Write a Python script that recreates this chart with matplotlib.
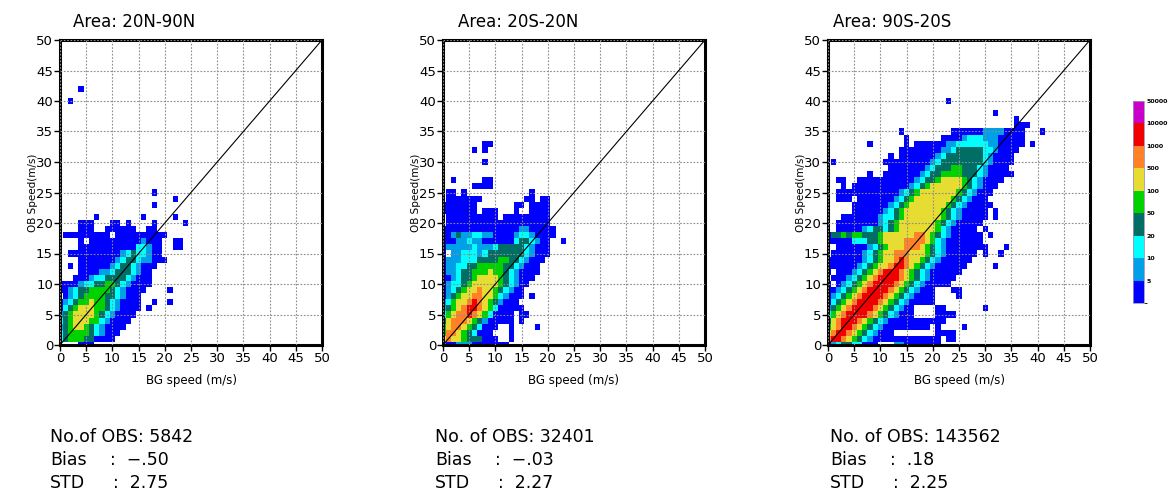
#Observed vs background wind speed density, three latitude bands
import numpy as np
import matplotlib.pyplot as plt
from matplotlib.colors import ListedColormap, BoundaryNorm
from matplotlib.cm import ScalarMappable

# --- Data: density class of each 1 m/s cell ---
# key = OB speed row, "a-b:L" = BG speed columns a..b have class L
# class 1 <5, 2 5-10, 3 10-20, 4 20-50, 5 50-100, 6 100-500, 7 500-1000, 8 1000-10000, 9 >10000
areas = ["Area: 20N-90N", "Area: 20S-20N", "Area: 90S-20S"]
n_obs = ["No.of OBS: 5842", "No. of OBS: 32401", "No. of OBS: 143562"]
bias = ["\u2212.50", "\u2212.03", ".18"]
std = ["2.75", "2.27", "2.25"]

rows_nh = {
    0: "4-6:1",
    1: "0:3 1:4 2-4:5 5-6:4 7-10:1",
    2: "0:3 1:4 2-5:5 6:4 7:3 8:2 9-11:1",
    3: "0:2 1:4 2:5 3-4:6 5:5 6:4 7:3 8:2 9-12:1",
    4: "0:3 1:4 2:5 3-5:6 6-7:5 8:3 9:2 10-13:1",
    5: "0:2 1:4 2:5 3-6:6 7:5 8:4 9:3 10:2 11-14:1",
    6: "0:1 1:3 2:4 3:5 4-6:6 7-8:5 9:4 10:3 11:2 12-15:1 17:1",
    7: "0:1 1:2 2:3 3:4 4-5:5 6:6 7-8:5 9:4 10:3 11:2 12-15:1 18:1 21:1",
    8: "1:1 2:2 3:3 4:4 5-8:5 9-10:4 11:3 12:2 13-15:1",
    9: "0-1:1 2:2 3:3 4-5:4 6-9:5 10:4 11:3 12:2 13-16:1 21:1",
    10: "0-3:1 4:2 5-6:3 7-8:4 9-10:5 11:4 12:3 13:2 14-17:1",
    11: "3-5:1 6:2 7-8:3 9-12:4 13:3 14:2 15-17:1",
    12: "4-7:1 8-9:2 10:3 11-13:4 14:3 15:2 16-17:1",
    13: "2:1 4-9:1 10:2 11:3 12-13:4 14:3 15:2 16-18:1",
    14: "4-10:1 11:2 12:3 13-14:4 15:3 16-17:2 18-20:1",
    15: "2-11:1 12:2 13:3 14:4 15-16:3 17:2 18-19:1",
    16: "4-14:1 15-16:3 17:2 18-19:1 22-23:1",
    17: "4:1 6-15:1 16:2 17-19:1 22-23:1",
    18: "1-9:1 11-20:1",
    19: "4-6:1 9-14:1 17-18:1",
    20: "4-6:1 10-11:1 13:1 18:1 24:1",
    21: "7:1 16:1 22:1",
    23: "18:1",
    24: "22:1",
    25: "18:1",
    40: "2:1",
    42: "4:1",
}

rows_tr = {
    0: "0:2 1-2:1 3-5:2 6-12:1",
    1: "0:6 1:7 2-3:6 4:5 5-7:4 8-10:1 13:1",
    2: "0:5 1-2:7 3:6 4:5 5:4 6:3 7-9:1 13:1",
    3: "0:5 1:6 2-3:7 4:6 5:5 6:4 7:3 8-10:1 13:1 18:1",
    4: "0:4 1:6 2-4:7 5:6 6:5 7:4 8:2 9-13:1 15:1",
    5: "0:3 1:5 2:6 3-4:7 5:8 6:7 7:6 8:5 9:3 10-13:1 15-16:1",
    6: "0:2 1:4 2:5 3:6 4:7 5-6:8 7:7 8:6 9:5 10:3 11-15:1",
    7: "0:2 1:3 2:5 3-4:6 5:7 6:8 7:7 8:6 9:5 10:4 11:2 12-14:1",
    8: "0:1 1:2 2:4 3:5 4-5:6 6-7:7 8-9:6 10:5 11:3 12:2 13-15:1 17:1",
    9: "0:1 1:2 2:3 3:4 4:5 5-6:6 7:7 8-9:6 10:5 11:4 12:3 13:2 14-15:1",
    10: "0:1 1:2 2-3:3 4:4 5:5 6-10:6 11:5 12:4 13:3 14:2 15-16:1",
    11: "0-1:1 2:2 3:3 4-5:4 6:5 7-10:6 11:5 12:4 13:3 14:2 15-17:1",
    12: "0:1 1-2:2 3:3 4-5:4 6-8:5 9:6 10-11:5 12:4 13:3 14:2 15-18:1",
    13: "0:1 1-2:2 3-4:3 5-6:4 7-11:5 12-13:4 14:3 15:2 16-18:1",
    14: "0:1 1-3:2 4-6:3 7-10:4 11-12:5 13-14:4 15:3 16:2 17-19:1",
    15: "0:1 2-3:2 4-6:3 7:2 8:3 9-15:4 16:3 17:2 18-20:1",
    16: "0:1 1-5:2 6:3 7-9:2 10:3 11-15:4 16:3 17:2 18-20:1",
    17: "0-2:1 3-4:2 5:3 6-7:2 8-13:1 14:3 15-16:4 17:3 18:2 19-20:1 23:1",
    18: "0-1:1 2:2 3:4 4-5:2 6-7:3 8-9:2 10-13:1 14:2 15-16:3 17:2 18-21:1",
    19: "0-14:1 15-16:2 17-21:1",
    20: "1-20:1",
    21: "1-10:1 12-20:1",
    22: "0-6:1 8-10:1 14:1 17-20:1",
    23: "0-6:1 14-15:1 17-20:1",
    24: "1-7:1 16-17:1 19-20:1",
    25: "1-2:1 4:1 17:1",
    26: "6-9:1",
    27: "2:1 8-9:1",
    30: "8:1",
    32: "6:1 8:1",
    33: "8-9:1",
}

rows_sh = {
    0: "0:1 1:2 2:3 3-4:4 5-6:3 7-9:1 13-14:2 15-21:1",
    1: "0:7 1-2:8 3:7 4:6 5:5 6:4 7:3 8:2 9-21:1 23-24:1",
    2: "0:6 1:7 2-3:8 4:7 5:6 6:5 7:4 8:3 9:2 10-12:1 21-24:1",
    3: "0:5 1:6 2:7 3-4:8 5:7 6:6 7:5 8:4 9:3 10:2 11-19:1 21:1 26:1",
    4: "0:4 1:6 2:7 3-5:8 6:7 7:6 8:5 9:4 10:3 11:2 12-22:1",
    5: "0:3 1:5 2:6 3:7 4-7:8 8:7 9:6 10:5 11:4 12:3 13:2 14-16:1 21-24:1",
    6: "0:2 1:4 2:5 3:6 4:7 5-8:8 9:7 10:6 11:5 12:4 13:3 14:2 15-16:1 21-22:1 30:1",
    7: "0:1 1:3 2:4 3:5 4:6 5:7 6-9:8 10:7 11:6 12:5 13:4 14:3 15:2 16-20:1",
    8: "0:1 1:2 2:3 3:4 4:5 5:6 6:7 7-10:8 11:7 12:6 13:5 14:4 15:3 16:2 17-20:1 25:1",
    9: "0-1:1 2:2 3:3 4:4 5:5 6:6 7:7 8-11:8 12:7 13:6 14:5 15:4 16:3 17:2 18-20:1 24-25:1",
    10: "0:1 2:1 3:2 4:3 5:4 6:5 7:6 8:7 9-12:8 13:7 14:6 15:5 16:4 17:3 18:2 19-23:1",
    11: "1-3:1 4:2 5:3 6:4 7:5 8:6 9:7 10-13:8 14:7 15:6 16:5 17:4 18:3 19:2 20-24:1",
    12: "0:1 2-4:1 5:2 6:3 7:4 8:5 9:6 10:7 11-13:8 14:7 15:6 16:5 17:4 18:3 19:2 20-25:1",
    13: "0-5:1 6:2 7:3 8:4 9:5 10-11:6 12:7 13-14:8 15:7 16:6 17:5 18:4 19:3 20:2 21-26:1 32:1",
    14: "0-6:1 7:2 8:3 9:4 10:5 11-12:6 13:7 14:8 15:7 16-17:6 18:5 19:4 20:3 21:2 22-27:1",
    15: "1-6:1 7:2 8:3 9:4 10:5 11-12:6 13-15:7 16-18:6 19:5 20:4 21:3 22:2 23-28:1 30:1 33:1",
    16: "2-7:1 8:2 9:3 10:4 11:5 12-14:6 15-17:7 18:6 19:5 20:4 21:3 22:2 23-30:1 34:1",
    17: "0-4:1 5-7:3 8-9:4 10:5 11-14:6 15-18:7 19:6 20:5 21:3 22:2 23-29:1",
    18: "0:1 1-2:4 3:5 4:4 5-6:5 7-9:4 10:5 11-16:6 17-18:7 19:6 20:5 21:4 22:3 23:2 24-29:1 31:1",
    19: "2-6:1 7:2 8:3 9-10:4 11:3 12:4 13:5 14-20:6 21:5 22:3 23:2 24-28:1 30:1",
    20: "2-9:1 10:2 11:3 12:4 13:5 14-20:6 21:5 22:4 23:3 24:2 25-29:1",
    21: "3-9:1 10:2 11-12:3 13:4 14:5 15-21:6 22:5 23:4 24:3 25:2 26-30:1 32:1",
    22: "5-10:1 11:2 12:3 13:4 14:5 15-21:6 22:5 23:4 24:3 25:2 26-30:1 32:1",
    23: "5-11:1 12:2 13:3 14:4 15:5 16-22:6 23:5 24:4 25:3 26:2 27-31:1",
    24: "2-4:1 6-12:1 13:2 14:3 15:4 16:5 17-23:6 24:5 25:4 26:3 27:2 28-30:1",
    25: "2-13:1 14:2 15:3 16:4 17:5 18-24:6 25:5 26:4 27:3 28:2 29-31:1",
    26: "3:1 5-15:1 16:2 17:3 18:4 19:5 20-25:6 26:5 27:4 28:3 29:2 30-32:1",
    27: "2-3:1 6-16:1 17:2 18:3 19-20:4 21:5 22-25:6 26:5 27:4 28:3 29:2 30-33:1",
    28: "8:1 11-17:1 18:2 19:3 20-21:4 22-25:5 26-28:4 29:3 30:2 31-35:1",
    29: "12-18:1 19:2 20:3 21-23:4 24-25:5 26-28:4 29:3 30:2 31-34:1",
    30: "1:1 11-19:1 20:2 21:3 22-29:4 30:3 31:2 32-35:1",
    31: "12:1 14-20:1 21:2 22:3 23-29:4 30:3 31:2 32-35:1",
    32: "14-21:1 22-23:2 24:3 25-29:4 30-31:3 32:2 33-36:1",
    33: "8:1 15:1 17-22:1 23-24:2 25-30:3 31-32:2 33-37:1 39:1",
    34: "15:1 22-25:1 26:2 27-29:3 30-32:2 33-37:1",
    35: "14:1 24-29:1 30-33:2 34-37:1 41:1",
    36: "36-38:1",
    37: "36:1",
    38: "32:1",
    40: "23:1",
}

cbar_labels = ["5", "10", "20", "50", "100", "500", "1000", "10000", "50000"]
colors = ["#0000ff", "#00a0e8", "#00ffff", "#006e64", "#00d200",
          "#e6dc32", "#ff8228", "#f00000", "#c800c8"]


def to_grid(rows):
    z = np.full((51, 51), np.nan)
    for j, spec in rows.items():
        for seg in spec.split():
            cols, lev = seg.split(':')
            a, _, b = cols.partition('-')
            b = b or a
            z[j, int(a):int(b) + 1] = int(lev)
    return z


cmap = ListedColormap(colors)
norm = BoundaryNorm(np.arange(0.5, 10.5, 1), cmap.N)
edges = np.arange(-0.5, 51, 1)

fig = plt.figure(figsize=(11.75, 4.91), dpi=100)
W, H = 1175, 491
lefts = [60, 443, 828]
text_x = [50, 435, 830]
title_x = [73, 458, 833]
grids = [to_grid(rows_nh), to_grid(rows_tr), to_grid(rows_sh)]

for k in range(3):
    ax = fig.add_axes([lefts[k] / W, 1 - 345 / H, 262 / W, 305 / H])
    ax.pcolormesh(edges, edges, grids[k], cmap=cmap, norm=norm, zorder=1)
    ax.plot([0, 50], [0, 50], color='k', lw=0.8, zorder=3)
    ax.set_xlim(0, 50)
    ax.set_ylim(0, 50)
    ax.set_xticks(np.arange(0, 51, 5))
    ax.set_yticks(np.arange(0, 51, 5))
    ax.tick_params(direction='out', length=4, width=1, labelsize=9.5, pad=1)
    ax.grid(True, color='#8c8c8c', ls=(0, (1.5, 1.5)), lw=0.8)
    ax.set_axisbelow(False)
    for sp in ax.spines.values():
        sp.set_linewidth(2.2)
    ax.set_xlabel("BG speed (m/s)", fontsize=8.5)
    ax.set_ylabel("OB Speed(m/s)", fontsize=7.5)
    ax.xaxis.set_label_coords(0.5, -0.095)
    ax.yaxis.set_label_coords(-0.085, 0.5)

    fig.text(title_x[k] / W, 1 - 22 / H, areas[k], fontsize=12, va='center')
    fig.text(text_x[k] / W, 1 - 437 / H, n_obs[k], fontsize=12.5, va='center')
    fig.text(text_x[k] / W, 1 - 460 / H, "Bias", fontsize=12.5, va='center')
    fig.text((text_x[k] + 60) / W, 1 - 460 / H, ":  " + bias[k], fontsize=12.5, va='center')
    fig.text(text_x[k] / W, 1 - 483 / H, "STD", fontsize=12.5, va='center')
    fig.text((text_x[k] + 63) / W, 1 - 483 / H, ":  " + std[k], fontsize=12.5, va='center')

# --- colour bar ---
cax = fig.add_axes([1133 / W, 1 - 303 / H, 11 / W, 202 / H])
sm = ScalarMappable(norm=norm, cmap=cmap)
cb = fig.colorbar(sm, cax=cax, boundaries=np.arange(0.5, 10.5, 1),
                  ticks=np.arange(1.5, 10.5, 1))
cb.ax.set_yticklabels(cbar_labels, fontsize=4.5, fontweight='bold')
cb.ax.tick_params(length=0, pad=2)
cb.outline.set_linewidth(0.6)
cb.outline.set_edgecolor('#a090c0')

fig.savefig("out.png", dpi=100)
